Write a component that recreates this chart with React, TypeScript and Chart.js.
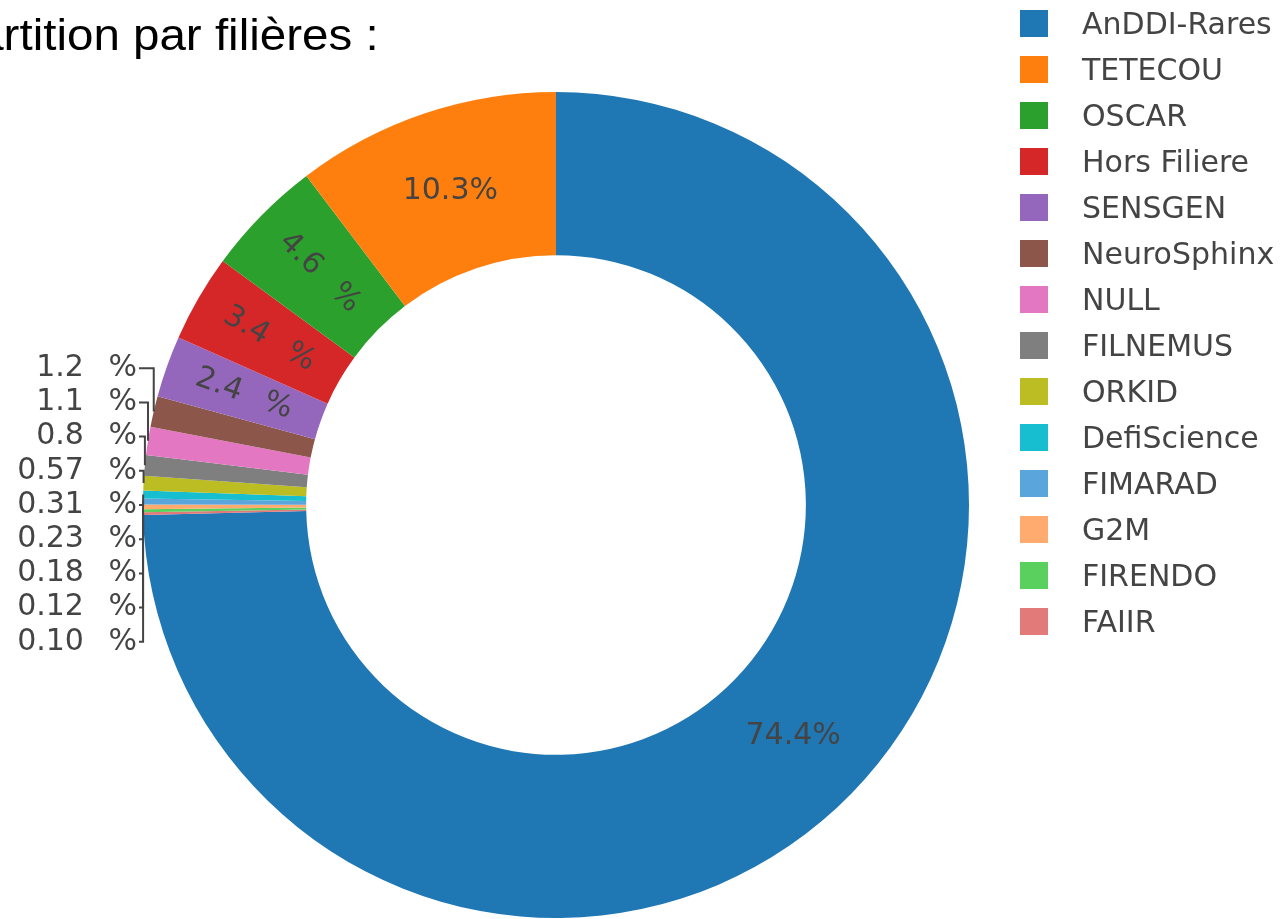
import React, { useEffect, useRef } from "react";
import { Chart, registerables } from "chart.js";

Chart.register(...registerables);

// ---- data ----
const categories = [
  "AnDDI-Rares",
  "TETECOU",
  "OSCAR",
  "Hors Filiere",
  "SENSGEN",
  "NeuroSphinx",
  "NULL",
  "FILNEMUS",
  "ORKID",
  "DefiScience",
  "FIMARAD",
  "G2M",
  "FIRENDO",
  "FAIIR",
];
const shares = [74.4, 10.3, 4.6, 3.4, 2.4, 1.2, 1.1, 0.8, 0.57, 0.31, 0.23, 0.18, 0.12, 0.1];
const GAP = "\u2002\u00a0";
const shareLabels = [
  "74.4%",
  "10.3%",
  "4.6" + GAP + "%",
  "3.4" + GAP + "%",
  "2.4" + GAP + "%",
  "1.2" + GAP + "%",
  "1.1" + GAP + "%",
  "0.8" + GAP + "%",
  "0.57" + GAP + "%",
  "0.31" + GAP + "%",
  "0.23" + GAP + "%",
  "0.18" + GAP + "%",
  "0.12" + GAP + "%",
  "0.10" + GAP + "%",
];
const colors = [
  "#1f77b4",
  "#ff7f0e",
  "#2ca02c",
  "#d62728",
  "#9467bd",
  "#8c564b",
  "#e377c2",
  "#7f7f7f",
  "#bcbd22",
  "#17becf",
  "#5aa5dc",
  "#ffaa6e",
  "#5ad05e",
  "#e27a7a",
];
const titleText = "Répartition par filières :";

// slices run clockwise from 12 o'clock: first category, then the rest in reverse
const drawOrder = [0, ...categories.map((_, i) => i).slice(1).reverse()];

const TEXT_COLOR = "#444";
const FONT_FAMILY = '"DejaVu Sans", Verdana, sans-serif';
const FONT_SIZE = 30;

const labelPlugin = {
  id: "sliceLabels",
  afterDatasetsDraw(chart: any) {
    const ctx: CanvasRenderingContext2D = chart.ctx;
    const meta = chart.getDatasetMeta(0);
    const total = shares.reduce((a, b) => a + b, 0);
    ctx.save();
    ctx.font = `${FONT_SIZE}px ${FONT_FAMILY}`;
    ctx.fillStyle = TEXT_COLOR;
    ctx.strokeStyle = TEXT_COLOR;
    ctx.textBaseline = "middle";
    const outside: any[] = [];
    meta.data.forEach((el: any, k: number) => {
      const idx = drawOrder[k];
      const p = el.getProps(["x", "y", "startAngle", "endAngle", "innerRadius", "outerRadius"], true);
      const mid = (p.startAngle + p.endAngle) / 2;
      const frac = shares[idx] / total;
      const rMid = (p.innerRadius + p.outerRadius) / 2;
      const tx = p.x + rMid * Math.cos(mid);
      const ty = p.y + rMid * Math.sin(mid);
      if (frac >= 0.08) {
        ctx.textAlign = "center";
        ctx.fillText(shareLabels[idx], tx, ty);
      } else if (frac >= 0.02) {
        ctx.save();
        ctx.translate(tx, ty);
        let rot = mid + Math.PI;
        while (rot > Math.PI) rot -= 2 * Math.PI;
        while (rot < -Math.PI) rot += 2 * Math.PI;
        if (rot > Math.PI / 2) rot -= Math.PI;
        if (rot < -Math.PI / 2) rot += Math.PI;
        ctx.rotate(rot);
        ctx.textAlign = "center";
        ctx.fillText(shareLabels[idx], 0, 0);
        ctx.restore();
      } else {
        outside.push({
          idx,
          sx: p.x + p.outerRadius * Math.cos(mid),
          sy: p.y + p.outerRadius * Math.sin(mid),
          cx: p.x,
          cy: p.y,
          R: p.outerRadius,
        });
      }
    });
    if (outside.length) {
      outside.sort((a, b) => a.sy - b.sy);
      const lineH = FONT_SIZE * 1.14;
      const n = outside.length;
      const startY = outside[0].cy - ((n - 1) * lineH) / 2;
      const textRight = outside[0].cx - outside[0].R - 6;
      ctx.lineWidth = 2;
      outside.forEach((o, j) => {
        const ly = startY + j * lineH;
        ctx.textAlign = "right";
        ctx.fillText(shareLabels[o.idx], textRight, ly);
        ctx.beginPath();
        ctx.moveTo(textRight + 2, ly);
        ctx.lineTo(o.sx, ly);
        ctx.lineTo(o.sx, o.sy);
        ctx.stroke();
      });
    }
    ctx.restore();
  },
};

export default function App() {
  const canvasRef = useRef<HTMLCanvasElement | null>(null);

  useEffect(() => {
    if (!canvasRef.current) return;
    const chart = new Chart(canvasRef.current, {
      type: "doughnut",
      data: {
        labels: drawOrder.map((i) => categories[i]),
        datasets: [
          {
            data: drawOrder.map((i) => shares[i]),
            backgroundColor: drawOrder.map((i) => colors[i]),
            borderWidth: 0,
          },
        ],
      },
      options: {
        responsive: false,
        animation: false,
        cutout: "60.5%",
        rotation: 0,
        layout: { padding: { top: 92, bottom: 1, left: 143, right: 311 } },
        plugins: {
          legend: { display: false },
          tooltip: { enabled: false },
          title: { display: false },
        },
      },
      plugins: [labelPlugin],
    });
    return () => chart.destroy();
  }, []);

  return (
    <div
      style={{
        position: "fixed",
        left: 0,
        top: 0,
        width: 1280,
        height: 919,
        overflow: "hidden",
        background: "#fff",
      }}
    >
      <canvas
        ref={canvasRef}
        width={1280}
        height={919}
        style={{ position: "absolute", left: 0, top: 0, width: 1280, height: 919 }}
      />
      <div
        style={{
          position: "absolute",
          left: -110,
          top: 10,
          fontFamily: '"Liberation Sans", Arial, sans-serif',
          fontSize: 44,
          color: "#000",
          whiteSpace: "nowrap",
          transform: "scaleX(1.08)",
          transformOrigin: "left top",
        }}
      >
        {titleText}
      </div>
      {categories.map((name, i) => (
        <div
          key={name}
          style={{
            position: "absolute",
            left: 1020,
            top: 9 + 46 * i,
            height: 28,
            display: "flex",
            alignItems: "center",
            whiteSpace: "nowrap",
          }}
        >
          <div style={{ width: 28, height: 27, background: colors[i] }} />
          <span
            style={{
              marginLeft: 34,
              fontFamily: FONT_FAMILY,
              fontSize: FONT_SIZE,
              color: TEXT_COLOR,
            }}
          >
            {name}
          </span>
        </div>
      ))}
    </div>
  );
}
